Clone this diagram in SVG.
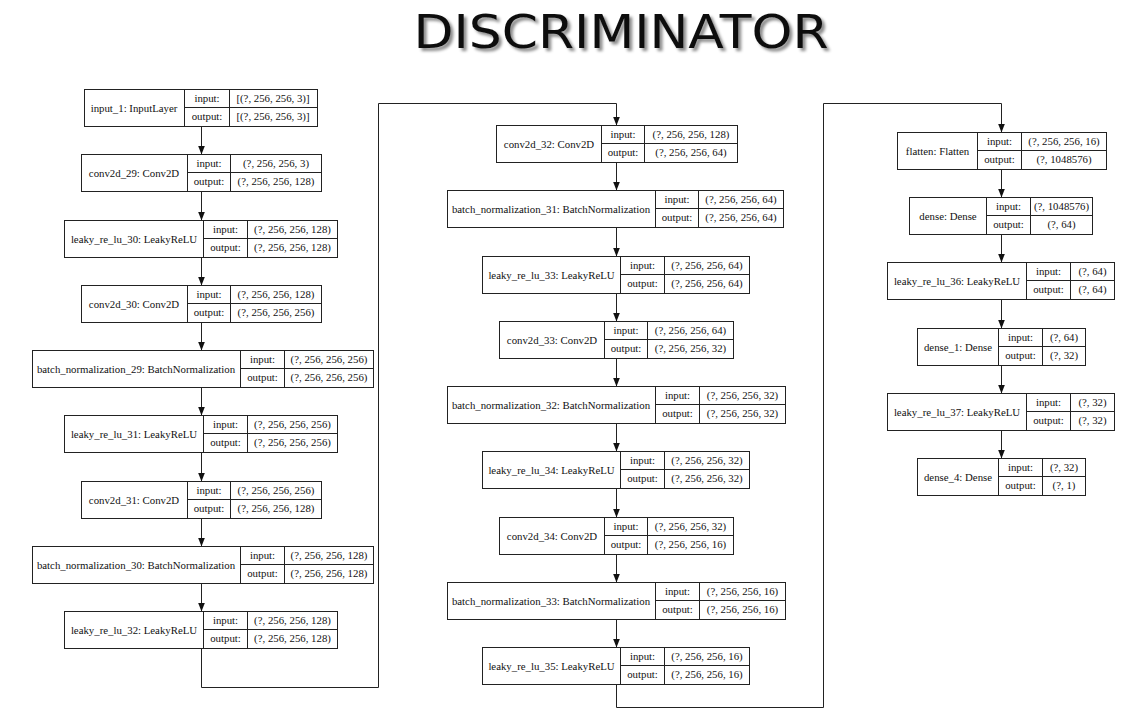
<svg xmlns="http://www.w3.org/2000/svg" width="1129" height="717" viewBox="0 0 1129 717">
<style>
.bx{fill:#fff;stroke:#222;stroke-width:1}
.ln{fill:none;stroke:#222;stroke-width:1}
.nd text{font-family:"Liberation Serif","Times New Roman",serif;font-size:10.8px;fill:#111;text-anchor:middle}
.title{font-family:"DejaVu Sans","Liberation Sans",sans-serif;font-size:46px;fill:#111;text-anchor:middle;filter:url(#shadow)}
</style>
<defs>
<filter id="shadow" x="-10%" y="-30%" width="120%" height="170%">
<feGaussianBlur in="SourceAlpha" stdDeviation="1.6"/>
<feOffset dx="3" dy="3" result="b"/>
<feFlood flood-color="#000" flood-opacity="0.45"/>
<feComposite in2="b" operator="in" result="s"/>
<feMerge><feMergeNode in="s"/><feMergeNode in="SourceGraphic"/></feMerge>
</filter>
<marker id="ah" viewBox="0 0 9 7" refX="9" refY="3.5" markerWidth="9" markerHeight="7" markerUnits="userSpaceOnUse" orient="auto"><path d="M0,0 L9,3.5 L0,7 z" fill="#111"/></marker>
</defs>
<rect width="1129" height="717" fill="#fff"/>
<g id="title">
<text class="title" x="621" y="48" textLength="415" lengthAdjust="spacingAndGlyphs">DISCRIMINATOR</text>
</g>
<g id="connectors" class="ln">
<path d="M201.5,126.5 V154.5" marker-end="url(#ah)"/>
<path d="M201.5,191.5 V220.5" marker-end="url(#ah)"/>
<path d="M201.5,257.5 V285.5" marker-end="url(#ah)"/>
<path d="M201.5,322.5 V350.5" marker-end="url(#ah)"/>
<path d="M201.5,387.5 V415.5" marker-end="url(#ah)"/>
<path d="M201.5,452.5 V481.5" marker-end="url(#ah)"/>
<path d="M201.5,518.5 V546.5" marker-end="url(#ah)"/>
<path d="M201.5,583.5 V611.5" marker-end="url(#ah)"/>
<path d="M201.5,648.5 V687.5 H378.5 V103.5 H616.5 V125.5" marker-end="url(#ah)"/>
<path d="M616.5,162.5 V190.5" marker-end="url(#ah)"/>
<path d="M616.5,227.5 V256.5" marker-end="url(#ah)"/>
<path d="M616.5,293.5 V321.5" marker-end="url(#ah)"/>
<path d="M616.5,358.5 V386.5" marker-end="url(#ah)"/>
<path d="M616.5,423.5 V451.5" marker-end="url(#ah)"/>
<path d="M616.5,488.5 V517.5" marker-end="url(#ah)"/>
<path d="M616.5,554.5 V582.5" marker-end="url(#ah)"/>
<path d="M616.5,619.5 V647.5" marker-end="url(#ah)"/>
<path d="M616.5,684.5 V707.5 H823.5 V103.5 H1001.5 V132.5" marker-end="url(#ah)"/>
<path d="M1001.5,169.5 V197.5" marker-end="url(#ah)"/>
<path d="M1001.5,234.5 V262.5" marker-end="url(#ah)"/>
<path d="M1001.5,299.5 V328.5" marker-end="url(#ah)"/>
<path d="M1001.5,365.5 V393.5" marker-end="url(#ah)"/>
<path d="M1001.5,430.5 V458.5" marker-end="url(#ah)"/>
</g>

<g id="input_1" class="nd">
<rect class="bx" x="84.5" y="89.5" width="233" height="37"/>
<path class="ln" d="M184.5,89.5 V126.5 M229.5,89.5 V126.5 M184.5,107.5 H317.5"/>
<text x="134" y="111.5">input_1: InputLayer</text>
<text x="207" y="102">input:</text><text x="207" y="120">output:</text>
<text x="273" y="102">[(?, 256, 256, 3)]</text><text x="273" y="120">[(?, 256, 256, 3)]</text>
</g>
<g id="conv2d_29" class="nd">
<rect class="bx" x="81.5" y="154.5" width="240" height="37"/>
<path class="ln" d="M187.5,154.5 V191.5 M230.5,154.5 V191.5 M187.5,172.5 H321.5"/>
<text x="134" y="176.5">conv2d_29: Conv2D</text>
<text x="209" y="167">input:</text><text x="209" y="185">output:</text>
<text x="276" y="167">(?, 256, 256, 3)</text><text x="276" y="185">(?, 256, 256, 128)</text>
</g>
<g id="leaky_re_lu_30" class="nd">
<rect class="bx" x="64.5" y="220.5" width="273" height="37"/>
<path class="ln" d="M203.5,220.5 V257.5 M247.5,220.5 V257.5 M203.5,238.5 H337.5"/>
<text x="134" y="242.5">leaky_re_lu_30: LeakyReLU</text>
<text x="225.5" y="233">input:</text><text x="225.5" y="251">output:</text>
<text x="292.5" y="233">(?, 256, 256, 128)</text><text x="292.5" y="251">(?, 256, 256, 128)</text>
</g>
<g id="conv2d_30" class="nd">
<rect class="bx" x="81.5" y="285.5" width="240" height="37"/>
<path class="ln" d="M187.5,285.5 V322.5 M230.5,285.5 V322.5 M187.5,303.5 H321.5"/>
<text x="134" y="307.5">conv2d_30: Conv2D</text>
<text x="209" y="298">input:</text><text x="209" y="316">output:</text>
<text x="276" y="298">(?, 256, 256, 128)</text><text x="276" y="316">(?, 256, 256, 256)</text>
</g>
<g id="batch_normalization_29" class="nd">
<rect class="bx" x="32.5" y="350.5" width="341" height="37"/>
<path class="ln" d="M240.5,350.5 V387.5 M284.5,350.5 V387.5 M240.5,368.5 H373.5"/>
<text x="136" y="372.5">batch_normalization_29: BatchNormalization</text>
<text x="262.5" y="363">input:</text><text x="262.5" y="381">output:</text>
<text x="329" y="363">(?, 256, 256, 256)</text><text x="329" y="381">(?, 256, 256, 256)</text>
</g>
<g id="leaky_re_lu_31" class="nd">
<rect class="bx" x="64.5" y="415.5" width="273" height="37"/>
<path class="ln" d="M203.5,415.5 V452.5 M247.5,415.5 V452.5 M203.5,433.5 H337.5"/>
<text x="134" y="437.5">leaky_re_lu_31: LeakyReLU</text>
<text x="225.5" y="428">input:</text><text x="225.5" y="446">output:</text>
<text x="292.5" y="428">(?, 256, 256, 256)</text><text x="292.5" y="446">(?, 256, 256, 256)</text>
</g>
<g id="conv2d_31" class="nd">
<rect class="bx" x="81.5" y="481.5" width="240" height="37"/>
<path class="ln" d="M187.5,481.5 V518.5 M230.5,481.5 V518.5 M187.5,499.5 H321.5"/>
<text x="134" y="503.5">conv2d_31: Conv2D</text>
<text x="209" y="494">input:</text><text x="209" y="512">output:</text>
<text x="276" y="494">(?, 256, 256, 256)</text><text x="276" y="512">(?, 256, 256, 128)</text>
</g>
<g id="batch_normalization_30" class="nd">
<rect class="bx" x="32.5" y="546.5" width="341" height="37"/>
<path class="ln" d="M240.5,546.5 V583.5 M284.5,546.5 V583.5 M240.5,564.5 H373.5"/>
<text x="136" y="568.5">batch_normalization_30: BatchNormalization</text>
<text x="262.5" y="559">input:</text><text x="262.5" y="577">output:</text>
<text x="329" y="559">(?, 256, 256, 128)</text><text x="329" y="577">(?, 256, 256, 128)</text>
</g>
<g id="leaky_re_lu_32" class="nd">
<rect class="bx" x="64.5" y="611.5" width="273" height="37"/>
<path class="ln" d="M203.5,611.5 V648.5 M247.5,611.5 V648.5 M203.5,629.5 H337.5"/>
<text x="134" y="633.5">leaky_re_lu_32: LeakyReLU</text>
<text x="225.5" y="624">input:</text><text x="225.5" y="642">output:</text>
<text x="292.5" y="624">(?, 256, 256, 128)</text><text x="292.5" y="642">(?, 256, 256, 128)</text>
</g>

<g id="conv2d_32" class="nd">
<rect class="bx" x="496.5" y="125.5" width="241" height="37"/>
<path class="ln" d="M601.5,125.5 V162.5 M644.5,125.5 V162.5 M601.5,143.5 H737.5"/>
<text x="549" y="147.5">conv2d_32: Conv2D</text>
<text x="623" y="138">input:</text><text x="623" y="156">output:</text>
<text x="691" y="138">(?, 256, 256, 128)</text><text x="691" y="156">(?, 256, 256, 64)</text>
</g>
<g id="batch_normalization_31" class="nd">
<rect class="bx" x="447.5" y="190.5" width="336" height="37"/>
<path class="ln" d="M655.5,190.5 V227.5 M698.5,190.5 V227.5 M655.5,208.5 H783.5"/>
<text x="551" y="212.5">batch_normalization_31: BatchNormalization</text>
<text x="677" y="203">input:</text><text x="677" y="221">output:</text>
<text x="741" y="203">(?, 256, 256, 64)</text><text x="741" y="221">(?, 256, 256, 64)</text>
</g>
<g id="leaky_re_lu_33" class="nd">
<rect class="bx" x="482.5" y="256.5" width="267" height="37"/>
<path class="ln" d="M620.5,256.5 V293.5 M664.5,256.5 V293.5 M620.5,274.5 H749.5"/>
<text x="551.5" y="278.5">leaky_re_lu_33: LeakyReLU</text>
<text x="642.5" y="269">input:</text><text x="642.5" y="287">output:</text>
<text x="707" y="269">(?, 256, 256, 64)</text><text x="707" y="287">(?, 256, 256, 64)</text>
</g>
<g id="conv2d_33" class="nd">
<rect class="bx" x="499.5" y="321.5" width="234" height="37"/>
<path class="ln" d="M604.5,321.5 V358.5 M647.5,321.5 V358.5 M604.5,339.5 H733.5"/>
<text x="552" y="343.5">conv2d_33: Conv2D</text>
<text x="626" y="334">input:</text><text x="626" y="352">output:</text>
<text x="690.5" y="334">(?, 256, 256, 64)</text><text x="690.5" y="352">(?, 256, 256, 32)</text>
</g>
<g id="batch_normalization_32" class="nd">
<rect class="bx" x="447.5" y="386.5" width="338" height="37"/>
<path class="ln" d="M655.5,386.5 V423.5 M699.5,386.5 V423.5 M655.5,404.5 H785.5"/>
<text x="551" y="408.5">batch_normalization_32: BatchNormalization</text>
<text x="677.5" y="399">input:</text><text x="677.5" y="417">output:</text>
<text x="742.5" y="399">(?, 256, 256, 32)</text><text x="742.5" y="417">(?, 256, 256, 32)</text>
</g>
<g id="leaky_re_lu_34" class="nd">
<rect class="bx" x="482.5" y="451.5" width="267" height="37"/>
<path class="ln" d="M620.5,451.5 V488.5 M664.5,451.5 V488.5 M620.5,469.5 H749.5"/>
<text x="551.5" y="473.5">leaky_re_lu_34: LeakyReLU</text>
<text x="642.5" y="464">input:</text><text x="642.5" y="482">output:</text>
<text x="707" y="464">(?, 256, 256, 32)</text><text x="707" y="482">(?, 256, 256, 32)</text>
</g>
<g id="conv2d_34" class="nd">
<rect class="bx" x="499.5" y="517.5" width="234" height="37"/>
<path class="ln" d="M604.5,517.5 V554.5 M647.5,517.5 V554.5 M604.5,535.5 H733.5"/>
<text x="552" y="539.5">conv2d_34: Conv2D</text>
<text x="626" y="530">input:</text><text x="626" y="548">output:</text>
<text x="690.5" y="530">(?, 256, 256, 32)</text><text x="690.5" y="548">(?, 256, 256, 16)</text>
</g>
<g id="batch_normalization_33" class="nd">
<rect class="bx" x="447.5" y="582.5" width="338" height="37"/>
<path class="ln" d="M655.5,582.5 V619.5 M699.5,582.5 V619.5 M655.5,600.5 H785.5"/>
<text x="551" y="604.5">batch_normalization_33: BatchNormalization</text>
<text x="677.5" y="595">input:</text><text x="677.5" y="613">output:</text>
<text x="742.5" y="595">(?, 256, 256, 16)</text><text x="742.5" y="613">(?, 256, 256, 16)</text>
</g>
<g id="leaky_re_lu_35" class="nd">
<rect class="bx" x="482.5" y="647.5" width="267" height="37"/>
<path class="ln" d="M620.5,647.5 V684.5 M664.5,647.5 V684.5 M620.5,665.5 H749.5"/>
<text x="551.5" y="669.5">leaky_re_lu_35: LeakyReLU</text>
<text x="642.5" y="660">input:</text><text x="642.5" y="678">output:</text>
<text x="707" y="660">(?, 256, 256, 16)</text><text x="707" y="678">(?, 256, 256, 16)</text>
</g>

<g id="flatten" class="nd">
<rect class="bx" x="897.5" y="132.5" width="209" height="37"/>
<path class="ln" d="M977.5,132.5 V169.5 M1021.5,132.5 V169.5 M977.5,150.5 H1106.5"/>
<text x="937.5" y="154.5">flatten: Flatten</text>
<text x="999.5" y="145">input:</text><text x="999.5" y="163">output:</text>
<text x="1064" y="145">(?, 256, 256, 16)</text><text x="1064" y="163">(?, 1048576)</text>
</g>
<g id="dense" class="nd">
<rect class="bx" x="909.5" y="197.5" width="183" height="37"/>
<path class="ln" d="M986.5,197.5 V234.5 M1030.5,197.5 V234.5 M986.5,215.5 H1092.5"/>
<text x="948" y="219.5">dense: Dense</text>
<text x="1008.5" y="210">input:</text><text x="1008.5" y="228">output:</text>
<text x="1061.5" y="210">(?, 1048576)</text><text x="1061.5" y="228">(?, 64)</text>
</g>
<g id="leaky_re_lu_36" class="nd">
<rect class="bx" x="887.5" y="262.5" width="227" height="37"/>
<path class="ln" d="M1026.5,262.5 V299.5 M1070.5,262.5 V299.5 M1026.5,280.5 H1114.5"/>
<text x="957" y="284.5">leaky_re_lu_36: LeakyReLU</text>
<text x="1048.5" y="275">input:</text><text x="1048.5" y="293">output:</text>
<text x="1092.5" y="275">(?, 64)</text><text x="1092.5" y="293">(?, 64)</text>
</g>
<g id="dense_1" class="nd">
<rect class="bx" x="917.5" y="328.5" width="168" height="37"/>
<path class="ln" d="M998.5,328.5 V365.5 M1042.5,328.5 V365.5 M998.5,346.5 H1085.5"/>
<text x="958" y="350.5">dense_1: Dense</text>
<text x="1020.5" y="341">input:</text><text x="1020.5" y="359">output:</text>
<text x="1064" y="341">(?, 64)</text><text x="1064" y="359">(?, 32)</text>
</g>
<g id="leaky_re_lu_37" class="nd">
<rect class="bx" x="887.5" y="393.5" width="227" height="37"/>
<path class="ln" d="M1026.5,393.5 V430.5 M1070.5,393.5 V430.5 M1026.5,411.5 H1114.5"/>
<text x="957" y="415.5">leaky_re_lu_37: LeakyReLU</text>
<text x="1048.5" y="406">input:</text><text x="1048.5" y="424">output:</text>
<text x="1092.5" y="406">(?, 32)</text><text x="1092.5" y="424">(?, 32)</text>
</g>
<g id="dense_4" class="nd">
<rect class="bx" x="917.5" y="458.5" width="168" height="37"/>
<path class="ln" d="M998.5,458.5 V495.5 M1042.5,458.5 V495.5 M998.5,476.5 H1085.5"/>
<text x="958" y="480.5">dense_4: Dense</text>
<text x="1020.5" y="471">input:</text><text x="1020.5" y="489">output:</text>
<text x="1064" y="471">(?, 32)</text><text x="1064" y="489">(?, 1)</text>
</g>
</svg>
